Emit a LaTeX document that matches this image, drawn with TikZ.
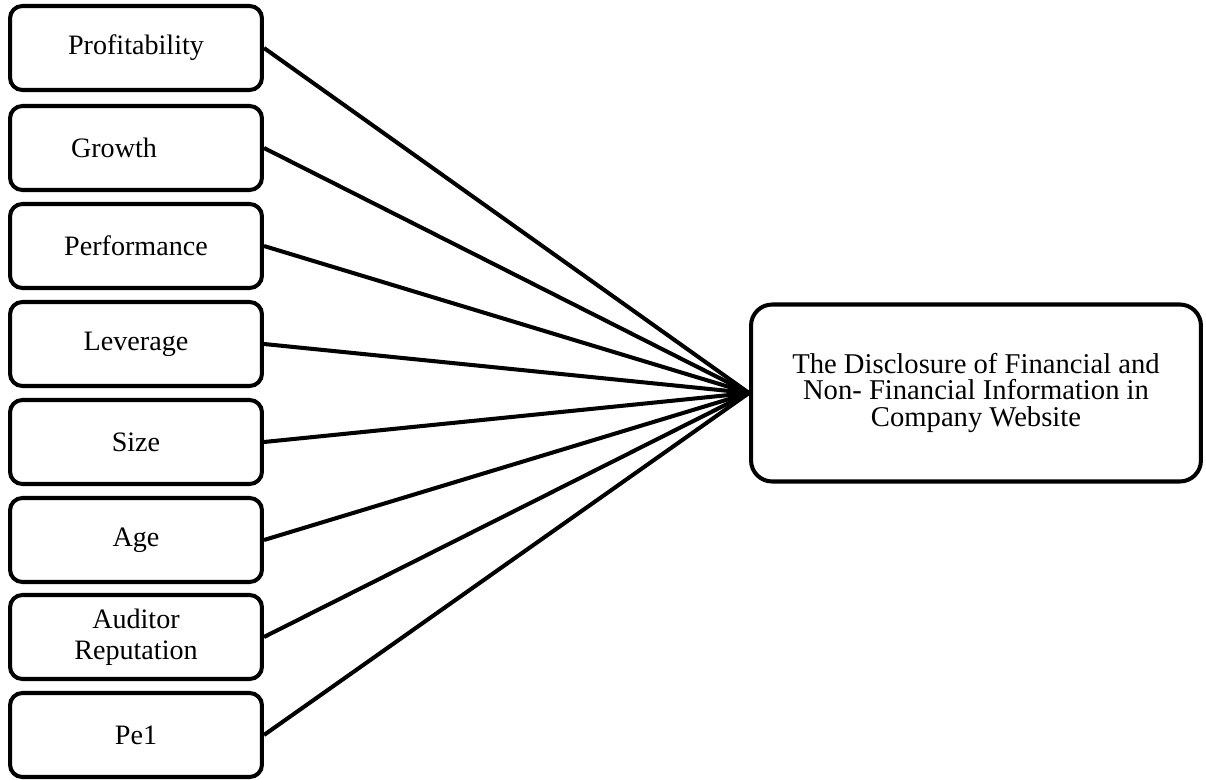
\documentclass[tikz,border=0pt]{standalone}
\usepackage{fontspec}
\setmainfont{Liberation Serif}
\tikzstyle{factor}=[draw,line width=2.3pt,rounded corners=7pt,minimum width=5.04cm,minimum height=1.68cm,align=center,inner sep=2pt,font=\fontsize{16}{17.6}\selectfont]
\tikzstyle{outcome}=[draw,line width=2.3pt,rounded corners=12pt,minimum width=9.0cm,minimum height=3.54cm,align=center,font=\fontsize{16.3}{15}\selectfont]
\tikzstyle{link}=[draw,line width=2.3pt,-]

\begin{document}
\begin{tikzpicture}[x=0.02cm, y=-0.02cm]
    \useasboundingbox (0,0) rectangle (1206,780);
    % First the factors on the left
    \foreach \pos/\name/\text in {{(136,48)/prof/Profitability}, {(136,148)/grow/Growth\hspace*{0.88cm}}, {(136,246)/perf/Performance}, {(136,344)/lev/Leverage}, {(136,442)/size/Size}, {(136,540)/age/Age}, {(136,637)/aud/Auditor\\Reputation}, {(136,735)/pe/Pe1}}
        \node[factor] (\name) at \pos {\text};
    % The dependent variable
    \node[outcome] (disc) at (976,393) {The Disclosure of Financial and\\Non- Financial Information in\\Company Website};
    % Connect every factor with it
    \foreach \source in {prof,grow,perf,lev,size,age,aud,pe}
        \path[link] (\source.east) -- (disc.west);
\end{tikzpicture}
\end{document}
